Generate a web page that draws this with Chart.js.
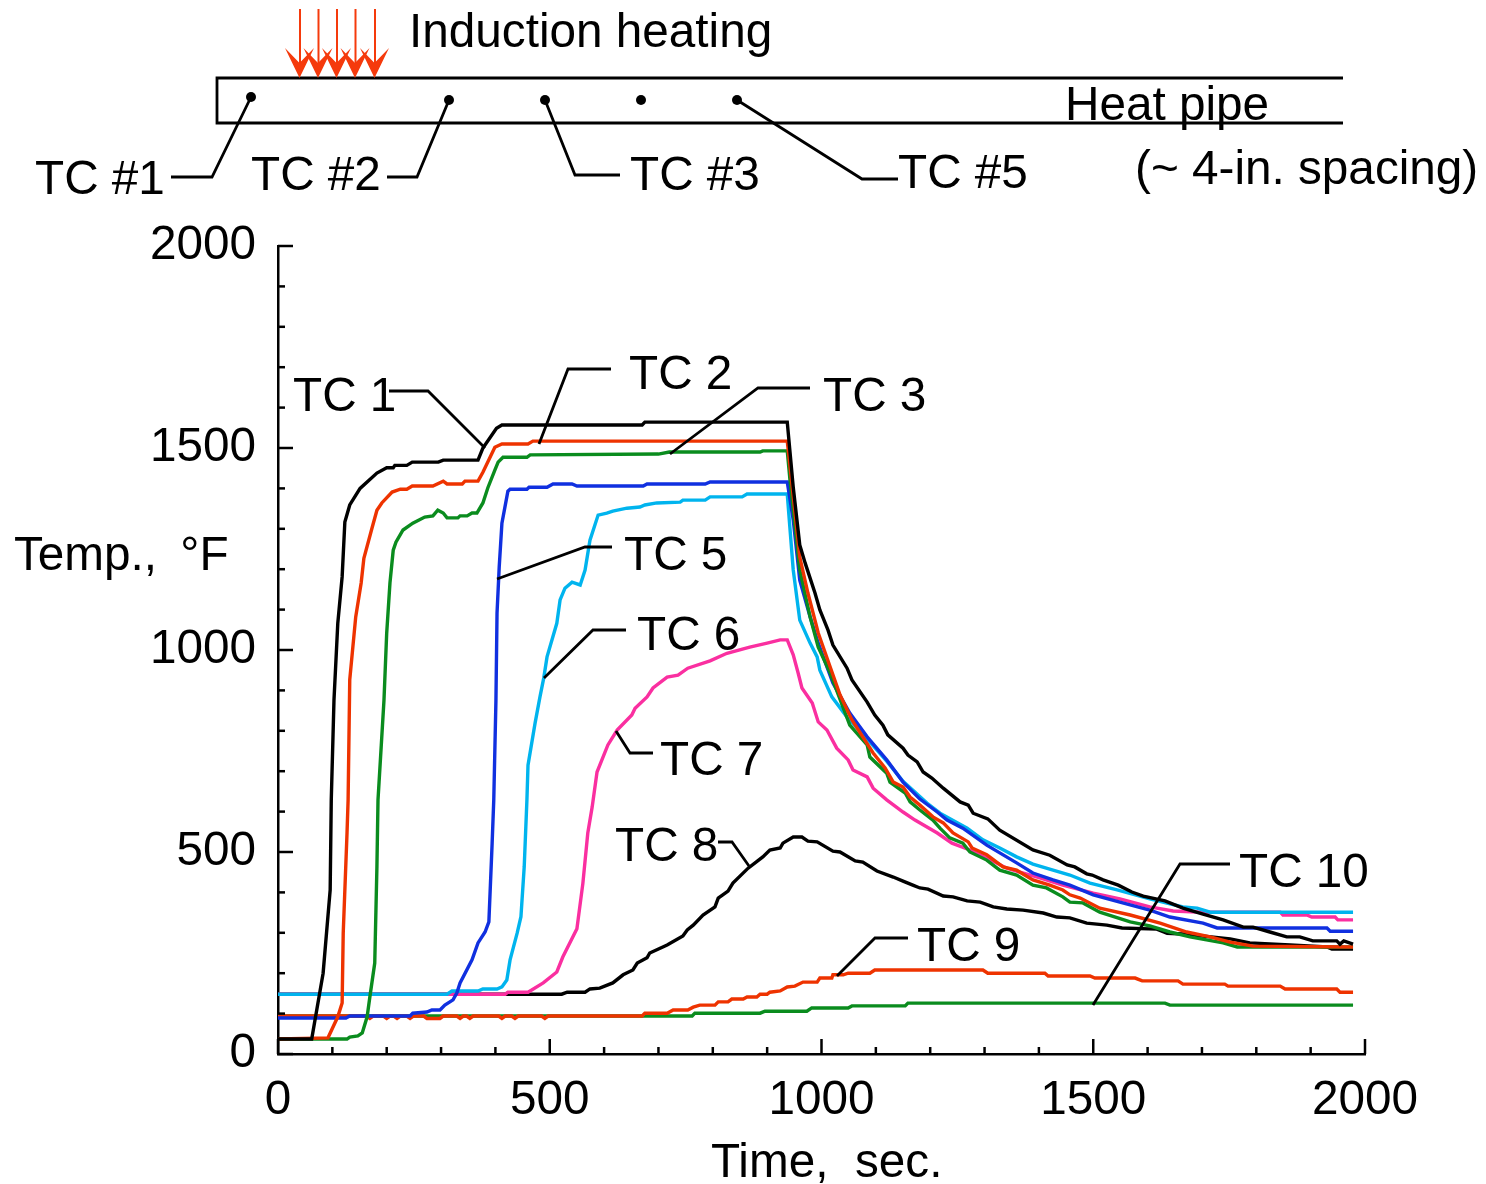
<!DOCTYPE html>
<html lang="en">
<head>
<meta charset="UTF-8">
<title>Heat pipe temperatures</title>
<script src="https://cdn.jsdelivr.net/npm/chart.js@4/dist/chart.umd.min.js"></script>
<style>
    html, body { margin: 0; background: #fff; }
    canvas { display: block; }
</style>
</head>
<body>
<canvas id="chartTemp" width="1486" height="1184"></canvas>
<script>
    // [time in sec, temperature in F]
    const tc1 = [[0,37],[62,37],[83,200],[96,406],[98,629],[103,876],[110,1066],[118,1181],[123,1317],[132,1359],[151,1400],[182,1438],[200,1451],[212,1451],[215,1457],[237,1457],[247,1465],[295,1465],[304,1470],[368,1470],[377,1500],[402,1549],[412,1557],[670,1557],[675,1564],[937,1564],[948,1403],[960,1260],[970,1215],[988,1141],[997,1099],[1012,1049],[1021,1012],[1047,955],[1056,926],[1084,871],[1098,839],[1113,814],[1122,790],[1150,757],[1159,740],[1176,723],[1187,698],[1203,683],[1224,658],[1255,624],[1270,616],[1279,596],[1306,582],[1328,554],[1389,505],[1420,492],[1452,468],[1466,463],[1488,446],[1498,443],[1518,431],[1546,418],[1571,401],[1592,391],[1632,379],[1665,361],[1702,346],[1739,332],[1776,314],[1794,314],[1825,302],[1856,290],[1880,290],[1904,280],[1948,280],[1954,272],[1961,280],[1978,272]];
    const tc2 = [[0,37],[92,40],[110,92],[118,126],[120,299],[127,547],[129,629],[132,926],[143,1082],[153,1166],[158,1227],[173,1302],[182,1346],[191,1364],[210,1391],[225,1398],[237,1398],[247,1406],[285,1406],[304,1418],[311,1411],[339,1411],[344,1418],[368,1418],[377,1440],[399,1502],[412,1510],[460,1510],[469,1517],[937,1517],[948,1380],[960,1230],[975,1141],[994,1042],[1016,958],[1034,889],[1056,827],[1095,745],[1117,708],[1132,673],[1150,661],[1163,636],[1181,616],[1205,587],[1224,572],[1242,547],[1270,525],[1277,510],[1304,493],[1334,463],[1359,455],[1389,431],[1420,418],[1444,406],[1457,394],[1476,386],[1512,361],[1568,344],[1623,324],[1672,302],[1715,290],[1752,277],[1794,267],[1978,265]];
    const tc3 = [[0,37],[127,37],[132,42],[147,45],[155,52],[164,92],[169,141],[178,225],[182,463],[184,629],[195,876],[200,1042],[206,1166],[212,1247],[217,1267],[230,1297],[248,1314],[270,1329],[285,1332],[294,1346],[304,1339],[311,1327],[331,1327],[335,1332],[348,1332],[357,1339],[366,1339],[377,1364],[386,1401],[399,1445],[405,1465],[414,1477],[458,1477],[464,1483],[700,1485],[720,1490],[887,1490],[892,1493],[937,1493],[942,1421],[960,1198],[979,1082],[994,1007],[1016,943],[1052,814],[1084,765],[1089,735],[1120,695],[1126,673],[1154,646],[1163,624],[1181,604],[1205,579],[1218,559],[1236,535],[1260,522],[1273,500],[1304,480],[1328,455],[1359,443],[1389,418],[1414,411],[1444,389],[1457,376],[1481,374],[1512,351],[1568,327],[1604,317],[1641,302],[1678,290],[1739,275],[1765,265],[1978,265]];
    const tc5 = [[0,89],[125,89],[132,94],[243,94],[248,101],[274,104],[283,109],[298,109],[307,121],[322,134],[329,151],[335,176],[357,233],[368,275],[381,302],[388,327],[394,522],[397,629],[401,876],[403,1091],[407,1205],[412,1314],[423,1393],[427,1398],[458,1398],[462,1403],[495,1403],[506,1411],[541,1411],[550,1406],[672,1406],[679,1411],[786,1411],[795,1416],[937,1416],[948,1322],[960,1173],[979,1082],[994,1017],[1021,918],[1052,844],[1084,785],[1120,728],[1150,673],[1181,631],[1213,599],[1231,579],[1260,559],[1304,517],[1359,473],[1389,448],[1426,431],[1457,418],[1500,394],[1549,376],[1604,356],[1641,339],[1702,324],[1728,312],[1930,312],[1936,304],[1978,304]];
    const tc6 = [[0,148],[311,148],[320,156],[368,156],[377,161],[403,161],[412,166],[421,183],[427,233],[440,299],[447,340],[453,463],[458,629],[460,715],[473,819],[482,884],[489,931],[495,983],[513,1066],[519,1124],[528,1153],[541,1168],[556,1161],[565,1198],[574,1272],[589,1334],[605,1339],[616,1344],[642,1351],[666,1354],[675,1359],[697,1364],[740,1366],[745,1371],[786,1371],[795,1379],[854,1379],[863,1386],[937,1386],[948,1198],[960,1074],[979,1017],[992,983],[997,950],[1019,884],[1047,834],[1084,780],[1120,725],[1150,675],[1194,621],[1218,596],[1268,559],[1297,530],[1328,510],[1359,488],[1389,470],[1426,455],[1457,443],[1494,423],[1544,406],[1604,384],[1665,364],[1691,361],[1715,351],[1978,351]];
    const tc7 = [[0,148],[418,148],[423,153],[460,153],[488,176],[513,203],[524,240],[550,310],[561,423],[570,547],[578,611],[587,698],[607,765],[624,802],[651,839],[657,856],[679,884],[690,906],[716,933],[736,938],[754,955],[795,973],[826,992],[868,1007],[900,1017],[924,1025],[937,1025],[948,988],[957,943],[964,906],[983,869],[994,822],[1010,802],[1028,757],[1049,728],[1058,703],[1084,686],[1095,658],[1120,629],[1150,599],[1172,579],[1213,547],[1240,522],[1273,505],[1304,485],[1341,460],[1365,450],[1402,436],[1444,418],[1500,398],[1549,384],[1604,364],[1647,354],[1702,351],[1844,351],[1849,344],[1893,344],[1902,339],[1945,339],[1950,332],[1978,332]];
    const tc8 = [[0,148],[522,148],[532,153],[565,153],[574,161],[592,163],[616,176],[635,196],[653,208],[661,225],[679,238],[684,250],[716,270],[745,292],[753,307],[764,319],[782,344],[804,364],[810,386],[828,403],[837,423],[865,460],[892,488],[905,505],[924,510],[929,522],[948,537],[964,537],[975,527],[992,525],[1021,502],[1034,500],[1062,478],[1076,475],[1102,453],[1132,438],[1150,428],[1168,418],[1181,411],[1196,408],[1224,391],[1242,389],[1268,379],[1292,376],[1316,364],[1341,359],[1371,356],[1408,349],[1433,339],[1457,337],[1488,324],[1525,319],[1553,312],[1617,309],[1636,299],[1665,297],[1752,285],[1788,275],[1862,270],[1930,265],[1939,260],[1978,260]];
    const tc9 = [[0,94],[163,94],[169,88],[175,94],[194,94],[200,88],[206,94],[213,94],[219,88],[225,94],[237,94],[243,88],[249,94],[268,94],[274,88],[298,88],[304,94],[329,94],[335,88],[341,94],[347,94],[353,88],[359,94],[406,94],[412,88],[418,94],[430,94],[436,88],[442,94],[485,94],[491,88],[497,94],[670,94],[675,101],[716,101],[727,109],[754,109],[764,116],[776,121],[804,121],[810,129],[828,129],[835,136],[856,136],[863,141],[881,141],[887,148],[900,148],[905,153],[924,156],[937,166],[951,168],[966,178],[992,178],[997,188],[1019,188],[1021,196],[1040,196],[1049,200],[1089,200],[1098,208],[1297,208],[1306,200],[1411,200],[1417,193],[1494,193],[1503,188],[1577,188],[1590,181],[1656,181],[1665,173],[1742,173],[1748,168],[1844,168],[1853,161],[1948,161],[1954,153],[1978,153]];
    const tc10 = [[0,94],[762,94],[767,101],[887,101],[896,106],[973,106],[982,114],[1049,114],[1056,119],[1154,119],[1159,126],[1632,126],[1641,121],[1978,121]];

    const seriesNames = ['TC 1', 'TC 2', 'TC 3', 'TC 5', 'TC 6', 'TC 7', 'TC 8', 'TC 9', 'TC 10'];
    const seriesValues = [tc1, tc2, tc3, tc5, tc6, tc7, tc8, tc9, tc10];
    const seriesColors = ['#000000', '#ee3300', '#0a8c1e', '#1030e0', '#00b4ee', '#fa2fa0', '#000000', '#ee3300', '#0a8c1e'];

    const xTicks = [0, 500, 1000, 1500, 2000];
    const yTicks = [0, 500, 1000, 1500, 2000];
    const xMinorTicks = [100, 200, 300, 400, 600, 700, 800, 900, 1100, 1200, 1300, 1400, 1600, 1700, 1800, 1900];
    const yMinorTicks = [100, 200, 300, 400, 600, 700, 800, 900, 1100, 1200, 1300, 1400, 1600, 1700, 1800, 1900];

    const fontText = '47.7px "Liberation Sans"';

    // labels around the chart, x / baseline in page pixels
    const labels = [
        ['Induction heating', 409, 47], ['Heat pipe', 1065, 120], ['(~ 4-in. spacing)', 1135, 184],
        ['TC #1', 35, 194], ['TC #2', 251, 190], ['TC #3', 630, 190], ['TC #5', 898, 188],
        ['TC 1', 293, 411], ['TC 2', 629, 389], ['TC 3', 823, 411], ['TC 5', 624, 570], ['TC 6', 637, 650],
        ['TC 7', 660, 775], ['TC 8', 615, 861], ['TC 9', 917, 961], ['TC 10', 1239, 887],
        ['Temp., °F', 14, 570, '10px'], ['Time,  sec.', 711, 1177]
    ];
    const leaders = [
        [[171,177],[212,177],[251,97]], [[387,177],[417,177],[449,100]], [[545,100],[575,175],[620,175]], [[737,100],[862,179],[898,179]],
        [[389,391],[428,391],[485,448]], [[611,369],[568,369],[539,444]], [[810,388],[758,388],[670,454]],
        [[612,547],[585,547],[497,579]], [[626,630],[593,630],[544,678]], [[653,753],[630,753],[616,731]],
        [[718,842],[732,842],[749,866]], [[908,938],[875,938],[837,976]], [[1230,864],[1180,864],[1093,1005]]
    ];
    const pipe = [[1343,78],[217,78],[217,123],[1343,123]];
    const dots = [[251,97],[449,100],[545,100],[641,100],[737,100]];
    const arrowsX = [300, 318.5, 337, 355.5, 375];

    function polyline(ctx, pts) {
        ctx.beginPath();
        pts.forEach((p, i) => i ? ctx.lineTo(p[0], p[1]) : ctx.moveTo(p[0], p[1]));
        ctx.stroke();
    }

    const drawExtras = {
        id: 'drawExtras',
        afterDraw(chart) {
            const ctx = chart.ctx, sx = chart.scales.x, sy = chart.scales.y;
            ctx.save();
            ctx.strokeStyle = '#000';
            ctx.lineWidth = 2.5;
            ctx.lineCap = 'butt';

            // inward ticks
            xTicks.forEach(v => polyline(ctx, [[sx.getPixelForValue(v), 1054], [sx.getPixelForValue(v), 1039]]));
            xMinorTicks.forEach(v => polyline(ctx, [[sx.getPixelForValue(v), 1054], [sx.getPixelForValue(v), 1047]]));
            yTicks.forEach(v => polyline(ctx, [[278, sy.getPixelForValue(v)], [293, sy.getPixelForValue(v)]]));
            yMinorTicks.forEach(v => polyline(ctx, [[278, sy.getPixelForValue(v)], [285, sy.getPixelForValue(v)]]));

            // schematic and leaders
            ctx.lineWidth = 2.8;
            polyline(ctx, pipe);
            leaders.forEach(l => polyline(ctx, l));
            ctx.fillStyle = '#000';
            dots.forEach(d => {
                ctx.beginPath();
                ctx.arc(d[0], d[1], 5, 0, Math.PI * 2);
                ctx.fill();
            });

            // induction arrows
            ctx.strokeStyle = '#f53a0c';
            ctx.fillStyle = '#f53a0c';
            ctx.lineWidth = 2;
            arrowsX.forEach(x => {
                polyline(ctx, [[x, 9], [x, 68]]);
                ctx.beginPath();
                ctx.moveTo(x - 0.5, 78);
                ctx.lineTo(x - 15, 48);
                ctx.lineTo(x - 0.5, 63);
                ctx.lineTo(x + 14, 48);
                ctx.closePath();
                ctx.fill();
            });

            ctx.fillStyle = '#000';
            ctx.font = fontText;
            ctx.textAlign = 'left';
            ctx.textBaseline = 'alphabetic';
            labels.forEach(l => {
                ctx.wordSpacing = l[3] || '0px';
                ctx.fillText(l[0], l[1], l[2]);
            });
            ctx.restore();
        }
    };

    new Chart(document.getElementById('chartTemp').getContext('2d'), {
        type: 'line',
        data: {
            datasets: seriesValues.map((vals, i) => ({
                label: seriesNames[i],
                data: vals.map(p => ({ x: p[0], y: p[1] })),
                borderColor: seriesColors[i],
                borderWidth: 3.4,
                pointRadius: 0,
                tension: 0,
                fill: false
            }))
        },
        options: {
            responsive: false,
            animation: false,
            layout: { padding: { top: 246, right: 121, left: 0, bottom: 0 } },
            plugins: { legend: { display: false }, tooltip: { enabled: false } },
            scales: {
                x: {
                    type: 'linear',
                    min: 0,
                    max: 2000,
                    afterFit: s => { s.height = 130; },
                    afterBuildTicks: s => { s.ticks = xTicks.map(v => ({ value: v })); },
                    grid: { display: false, drawTicks: false },
                    border: { display: true, color: '#000', width: 2.5 },
                    ticks: { color: '#000', padding: 18, maxRotation: 0, callback: v => String(v), font: { family: 'Liberation Sans', size: 47.7 } }
                },
                y: {
                    min: 0,
                    max: 2000,
                    afterFit: s => { s.width = 278; },
                    afterBuildTicks: s => { s.ticks = yTicks.map(v => ({ value: v })); },
                    grid: { display: false, drawTicks: false },
                    border: { display: true, color: '#000', width: 2.5 },
                    ticks: { color: '#000', padding: 22, callback: v => String(v), font: { family: 'Liberation Sans', size: 47.7 } }
                }
            }
        },
        plugins: [drawExtras]
    });
</script>
</body>
</html>
